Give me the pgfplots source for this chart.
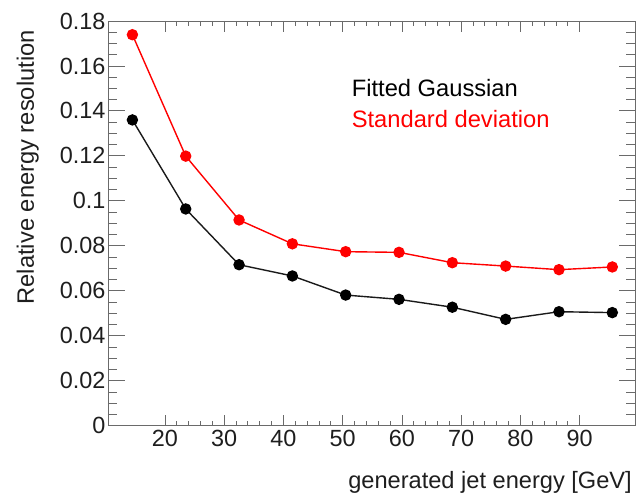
\documentclass[border=0pt]{standalone}
\usepackage{pgfplots}
\pgfplotsset{compat=1.18}
\usepackage{fontspec}
\setmainfont{Liberation Sans}

\definecolor{framegray}{HTML}{6A6A6A}
\definecolor{textdark}{HTML}{1E1E1E}
\definecolor{fitblack}{HTML}{1A1A1A}

% relative jet energy resolution vs generated jet energy
\pgfplotstableread{
E     res
14.5  0.1360
23.5  0.0964
32.5  0.0716
41.5  0.0666
50.5  0.0581
59.5  0.0562
68.5  0.0527
77.5  0.0473
86.5  0.0507
95.5  0.0503
}\fitted
\pgfplotstableread{
E     res
14.5  0.1739
23.5  0.1199
32.5  0.0915
41.5  0.0809
50.5  0.0774
59.5  0.0771
68.5  0.0725
77.5  0.0710
86.5  0.0694
95.5  0.0706
}\stddev

\begin{document}
\begin{tikzpicture}[x=1bp,y=1bp]
\begin{axis}[
  at={(0,0)}, anchor=south west,
  scale only axis,
  width=527.7bp, height=404.7bp,
  xmin=10.38, xmax=99.45,
  ymin=0, ymax=0.18,
  xtick={20,30,...,90},
  minor x tick num=4,
  ytick={0,0.02,...,0.181},
  minor y tick num=3,
  scaled y ticks=false,
  yticklabel style={/pgf/number format/fixed,/pgf/number format/precision=2},
  /pgf/number format/assume math mode=true,
  tick align=inside,
  axis line style={framegray, line width=0.9bp},
  every tick/.style={framegray, line width=0.9bp},
  xtick style={/pgfplots/major tick length=11bp,/pgfplots/minor tick length=5bp},
  ytick style={/pgfplots/major tick length=17bp,/pgfplots/minor tick length=9.5bp},
  ticklabel style={font=\fontsize{23.5}{26}\selectfont, text=textdark},
  xticklabel style={yshift=-1bp},
  yticklabel style={xshift=1bp},
  clip=false,
]
\addplot[fitblack, line width=1.4bp, mark=*, mark size=5bp,
  mark options={fill=black, draw=black}] table[x=E,y=res] {\fitted};
\addplot[red, line width=1.4bp, mark=*, mark size=5bp,
  mark options={fill=red, draw=red}] table[x=E,y=res] {\stddev};

\node[anchor=base west, text=black, font=\fontsize{23.8}{26}\selectfont, inner sep=0pt]
  at (axis cs:51.5,0.1463) {Fitted Gaussian};
\node[anchor=base west, text=red, font=\fontsize{23.8}{26}\selectfont, inner sep=0pt]
  at (axis cs:51.5,0.1325) {Standard deviation};
\end{axis}

% axis titles, placed in the ROOT manner (flush with the axis ends)
\node[anchor=base east, inner sep=0pt, text=textdark, font=\fontsize{23.7}{26}\selectfont]
  at (524bp,-62.5bp) {generated jet energy [GeV]};
\node[anchor=base east, rotate=90, inner sep=0pt, text=textdark, font=\fontsize{23.8}{26}\selectfont]
  at (-74bp,395.7bp) {Relative energy resolution};

\pgfresetboundingbox
\useasboundingbox (-108bp,-68.3bp) rectangle (532bp,425.7bp);
\end{tikzpicture}
\end{document}
